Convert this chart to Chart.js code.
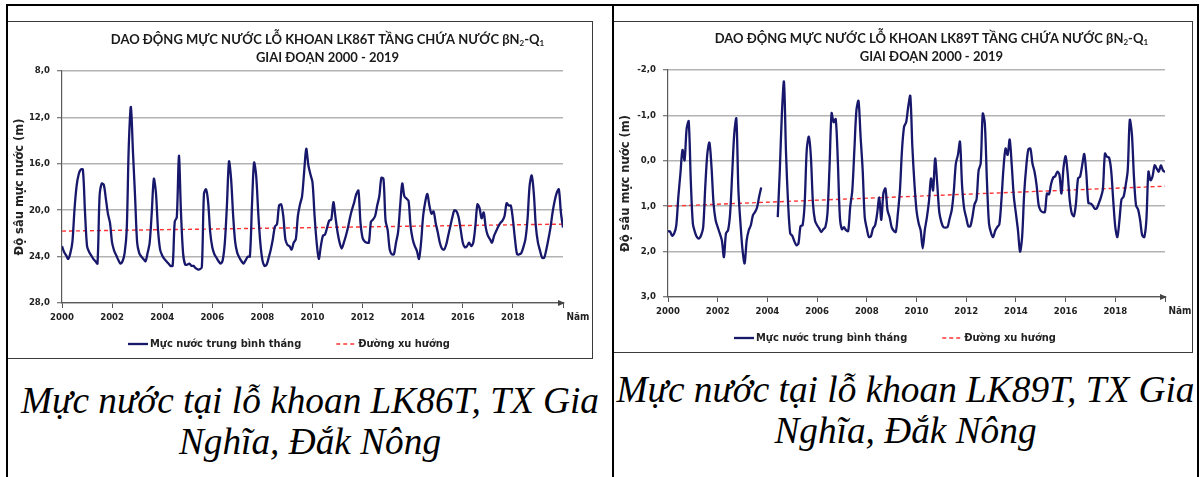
<!DOCTYPE html>
<html lang="vi">
<head>
<meta charset="utf-8">
<title>Mực nước lỗ khoan LK86T, LK89T</title>
<script src="https://cdn.jsdelivr.net/npm/chart.js@4.4.1/dist/chart.umd.min.js"></script>
<style>
  html, body { margin: 0; padding: 0; background: #fff; }
  body { position: relative; width: 1200px; height: 477px; overflow: hidden; }
  .rule { position: absolute; background: #000; }
  .box { position: absolute; box-sizing: border-box; border: 1px solid #3a3a3a; border-left: none; }
  canvas { position: absolute; }
  .caption {
    position: absolute; text-align: center; white-space: nowrap; color: #000;
    font-family: "Liberation Serif", "Times New Roman", serif; font-style: italic;
    font-size: 37.3px; line-height: 41px;
  }
</style>
</head>
<body>
<div class="rule" style="left:6px;top:4px;width:1193px;height:2px"></div>
<div class="rule" style="left:6px;top:4px;width:2px;height:473px"></div>
<div class="rule" style="left:612px;top:4px;width:2px;height:473px"></div>
<div class="rule" style="left:1197px;top:4px;width:2px;height:473px"></div>
<div class="box" style="left:8px;top:21px;width:585px;height:338px"></div>
<div class="box" style="left:614px;top:21px;width:579px;height:332px"></div>
<canvas id="lk86" width="584" height="338" style="left:8px;top:21px"></canvas>
<canvas id="lk89" width="578" height="332" style="left:614px;top:21px"></canvas>
<div class="caption" style="left:8px;width:604px;top:380px">Mực nước tại lỗ khoan LK86T, TX Gia<br>Nghĩa, Đắk Nông</div>
<div class="caption" style="left:614px;width:583px;top:369px">Mực nước tại lỗ khoan LK89T, TX Gia<br>Nghĩa, Đắk Nông</div>

<script>
// độ sâu mực nước trung bình tháng (m), từ 01/2000 đến 01/2020
const lk86t = [
  23.1, 23.6, 23.9, 24.2, 23.7, 22.7, 19.9, 17.9, 16.9, 16.5, 16.5, 20.1, // 2000
  23.1, 23.6, 23.9, 24.2, 24.4, 24.6, 18.8, 17.7, 17.8, 19.0, 20.3, 21.1, // 2001
  22.8, 23.5, 23.9, 24.3, 24.6, 24.4, 23.7, 21.7, 14.4, 11.1, 15.0, 18.8, // 2002
  22.8, 23.7, 24.0, 24.2, 24.4, 23.7, 22.8, 20.2, 17.3, 18.5, 21.7, 23.4, // 2003
  23.9, 24.2, 24.4, 24.6, 24.8, 24.8, 21.0, 20.6, 15.3, 20.2, 23.7, 24.7, // 2004
  24.7, 24.6, 24.8, 24.8, 25.0, 25.1, 25.1, 24.9, 18.6, 18.2, 19.3, 21.9, // 2005
  23.2, 23.8, 24.1, 24.4, 24.6, 24.3, 22.8, 19.6, 15.8, 17.3, 20.5, 22.8, // 2006
  23.7, 24.1, 24.4, 24.6, 24.3, 24.0, 24.0, 19.6, 15.9, 17.0, 20.2, 22.8, // 2007
  24.3, 24.8, 24.7, 24.1, 23.4, 22.5, 21.4, 21.2, 19.6, 19.5, 20.5, 22.5, // 2008
  23.0, 23.1, 23.4, 22.8, 22.5, 20.5, 19.5, 18.8, 16.7, 14.7, 16.1, 16.9, // 2009
  17.6, 20.5, 22.8, 24.2, 23.1, 22.2, 22.1, 21.5, 20.9, 20.8, 19.3, 20.6, // 2010
  21.9, 22.8, 23.3, 22.8, 22.2, 21.5, 20.6, 19.9, 19.3, 18.6, 18.3, 21.1, // 2011
  22.4, 22.7, 22.8, 22.8, 21.0, 20.8, 20.5, 19.6, 18.8, 17.2, 17.3, 20.9, // 2012
  21.7, 23.4, 23.8, 23.8, 22.8, 21.9, 19.6, 17.7, 18.8, 19.0, 19.2, 21.4, // 2013
  22.5, 23.1, 23.5, 24.2, 22.8, 20.5, 19.3, 18.6, 19.6, 20.3, 20.1, 21.1, // 2014
  21.9, 22.8, 23.3, 23.4, 23.0, 22.2, 21.4, 20.6, 20.0, 20.1, 20.6, 21.7, // 2015
  22.8, 23.2, 23.1, 22.8, 23.1, 22.8, 21.4, 19.5, 19.8, 20.7, 20.2, 21.5, // 2016
  22.2, 22.5, 22.8, 22.2, 21.8, 21.4, 21.1, 20.9, 20.5, 19.4, 19.6, 19.6, // 2017
  20.8, 22.5, 23.8, 23.8, 23.7, 23.2, 22.5, 20.8, 17.9, 17.0, 18.5, 21.4, // 2018
  22.8, 23.5, 24.1, 24.1, 23.4, 22.5, 21.5, 20.2, 19.2, 18.5, 18.2, 20.2, // 2019
  21.5
];

// null = không có số liệu quan trắc
const lk89t = [
  1.55, 1.56, 1.65, 1.60, 1.42, 0.79, 0.28, -0.24, -0.01, -0.71, -0.87, 0.43, // 2000
  1.38, 1.57, 1.68, 1.71, 1.64, 1.46, 0.57, -0.16, -0.40, 0.13, 0.94, 1.31,   // 2001
  1.46, 1.60, 1.75, 2.12, 1.60, 1.53, 1.16, 0.28, -0.60, -0.93, 0.65, 1.38,   // 2002
  1.97, 2.26, 1.75, 1.53, 1.42, 1.20, 1.13, 1.03, 0.79, 0.59, null, null,     // 2003
  null, null, null, null, null, 1.24, 0.20, -1.04, -1.74, -0.16, 0.94, 1.60,  // 2004
  1.65, 1.77, 1.86, 1.82, 1.44, 1.42, 0.94, -0.24, -0.53, -0.09, 0.94, 1.32,  // 2005
  1.42, 1.49, 1.57, 1.51, 1.46, 1.16, 0.13, -1.05, -0.85, -0.92, -0.01, 1.24, // 2006
  1.51, 1.46, 1.53, 1.55, 1.01, 0.65, -0.24, -1.12, -1.32, -0.53, 0.20, 1.24, // 2007
  1.49, 1.68, 1.66, 1.49, 1.42, 1.16, 0.81, 1.30, 0.72, 0.61, 1.09, 1.24,     // 2008
  1.46, 1.54, 1.57, 1.16, 0.65, -0.24, -0.75, -0.85, -1.19, -1.43, -0.31, 0.50, // 2009
  1.09, 1.37, 1.53, 1.93, 1.53, 1.25, 0.90, 0.39, 0.65, -0.05, 0.50, 1.13,    // 2010
  1.35, 1.46, 1.47, 1.46, 1.27, 1.09, 0.68, 0.06, -0.13, -0.42, 0.54, 1.05,   // 2011
  1.25, 1.44, 1.44, 1.24, 0.96, 0.85, 0.21, 0.06, -1.04, -0.82, 0.43, 1.38,   // 2012
  1.59, 1.68, 1.54, 1.46, 1.40, 0.87, 0.17, -0.27, -0.13, -0.47, 0.10, 0.79,  // 2013
  1.16, 1.53, 2.00, 1.68, 0.72, 0.13, -0.25, -0.27, 0.06, 0.24, 0.54, 0.98,   // 2014
  1.10, 1.13, 1.13, 0.72, 0.74, 0.51, 0.37, 0.34, 0.24, 0.30, 0.72, 0.15,     // 2015
  -0.10, 0.28, 0.87, 1.16, 1.22, 0.94, 0.39, 0.35, 0.10, -0.15, 0.28, 0.93,   // 2016
  0.94, 0.98, 1.05, 1.05, 0.94, 0.81, 0.63, -0.16, -0.09, -0.07, 0.21, 0.87,  // 2017
  1.46, 1.68, 1.31, 0.85, 0.79, 0.54, 0.21, -0.90, -0.60, 0.35, 0.98, 1.07,   // 2018
  1.31, 1.64, 1.68, 1.31, 0.24, 0.43, 0.34, 0.10, 0.17, 0.24, 0.10, 0.21,     // 2019
  0.25
];

// đường xu hướng: giá trị đầu và cuối giai đoạn
const trendYears = [2000, 2020];
const lk86Trend = [21.8, 21.2];
const lk89Trend = [1.0, 0.56];

const startYear = 2000;
const seriesLabel = 'Mực nước trung bình tháng';
const trendLabel = 'Đường xu hướng';
const navy = '#17176b';
const red = '#ff3434';
const axisFont = { family: '"DejaVu Sans Condensed", "DejaVu Sans", sans-serif', weight: 'bold', size: 9.5 };
const yTitleFont = { family: '"DejaVu Sans", sans-serif', weight: 'bold', size: 11.5 };
const textColor = '#222';

const toPoints = values => values.map((v, i) => ({ x: startYear + i / 12, y: v }));
const toTrend = values => values.map((v, i) => ({ x: trendYears[i], y: v }));
const comma = v => Number(v).toFixed(1).replace('.', ',');

function drawTitleLine(ctx, parts, cx, cy, size) {
  const big = `bold ${size}px Lato, "Open Sans", sans-serif`;
  const small = `bold ${Math.round(size * 0.62)}px Lato, "Open Sans", sans-serif`;
  const widths = parts.map(p => {
    ctx.font = p.sub ? small : big;
    return ctx.measureText(p.text).width;
  });
  let x = cx - widths.reduce((s, w) => s + w, 0) / 2;
  ctx.textAlign = 'left';
  ctx.textBaseline = 'middle';
  parts.forEach((p, i) => {
    ctx.font = p.sub ? small : big;
    ctx.fillText(p.text, x, p.sub ? cy + size * 0.3 : cy);
    x += widths[i];
  });
}

// tiêu đề, chú giải, nhãn "Năm" và mũi tên trục hoành
const decor = {
  id: 'decor',
  afterDraw(chart, args, opts) {
    const { ctx, chartArea: a } = chart;
    ctx.save();
    ctx.fillStyle = '#1a1a1a';
    const cx = a.left + a.width * 0.53;
    drawTitleLine(ctx, opts.title, cx, a.top - 31, 13);
    drawTitleLine(ctx, [{ text: 'GIAI ĐOẠN 2000 - 2019' }], cx, a.top - 13, 13);

    // mũi tên cuối trục thời gian
    ctx.fillStyle = '#444';
    ctx.beginPath();
    ctx.moveTo(a.right + 2, a.bottom);
    ctx.lineTo(a.right - 5, a.bottom - 3);
    ctx.lineTo(a.right - 5, a.bottom + 3);
    ctx.closePath();
    ctx.fill();

    ctx.fillStyle = textColor;
    ctx.font = 'bold 10px "DejaVu Sans Condensed", "DejaVu Sans", sans-serif';
    ctx.textAlign = 'center';
    ctx.textBaseline = 'middle';
    ctx.fillText('Năm', a.right + 15, a.bottom + 14);

    // chú giải
    const ly = a.bottom + opts.legendOffset;
    ctx.font = 'bold 11px "DejaVu Sans Condensed", "DejaVu Sans", sans-serif';
    ctx.textAlign = 'left';
    let x = a.left + 66;
    chart.data.datasets.forEach(ds => {
      ctx.strokeStyle = ds.borderColor;
      ctx.lineWidth = ds.borderWidth;
      ctx.setLineDash(ds.borderDash || []);
      ctx.beginPath();
      ctx.moveTo(x, ly);
      ctx.lineTo(x + 20, ly);
      ctx.stroke();
      ctx.setLineDash([]);
      ctx.fillText(ds.label, x + 22, ly);
      x += 22 + ctx.measureText(ds.label).width + 35;
    });
    ctx.restore();
  }
};

function buildChart(id, values, trend, yMin, yMax, yStep, title, pad, legendOffset) {
  return new Chart(document.getElementById(id), {
    type: 'line',
    data: {
      datasets: [
        {
          label: seriesLabel,
          data: toPoints(values),
          borderColor: navy,
          borderWidth: 2.3,
          pointRadius: 0,
          tension: 0.3,
          spanGaps: false,
          fill: false
        },
        {
          label: trendLabel,
          data: toTrend(trend),
          borderColor: red,
          borderWidth: 1.4,
          borderDash: [4, 3],
          pointRadius: 0,
          fill: false
        }
      ]
    },
    options: {
      responsive: false,
      devicePixelRatio: 1,
      animation: false,
      events: [],
      layout: { padding: pad },
      plugins: {
        legend: { display: false },
        tooltip: { enabled: false },
        decor: { title, legendOffset }
      },
      scales: {
        x: {
          type: 'linear',
          min: 2000,
          max: 2020,
          ticks: {
            stepSize: 2,
            autoSkip: false,
            maxRotation: 0,
            padding: 4,
            color: textColor,
            font: axisFont,
            callback: v => (v >= 2020 ? '' : String(v))
          },
          grid: { drawOnChartArea: false, drawTicks: true, tickLength: 5, tickColor: '#555' },
          border: { color: '#5a5a5a', width: 1.2 },
          afterFit: s => { s.height = 26; }
        },
        y: {
          type: 'linear',
          reverse: true,
          min: yMin,
          max: yMax,
          ticks: { stepSize: yStep, padding: 7, color: textColor, font: axisFont, callback: comma },
          grid: { color: '#b3b3b3', lineWidth: 1.5, drawTicks: true, tickLength: 5, tickColor: '#555', tickWidth: 1 },
          border: { color: '#5a5a5a', width: 1.2 },
          title: {
            display: true,
            text: 'Độ sâu mực nước (m)',
            color: textColor,
            font: yTitleFont,
            padding: { top: 5, bottom: 0 }
          },
          afterFit: s => { s.width = 54; }
        }
      }
    },
    plugins: [decor]
  });
}

buildChart('lk86', lk86t, lk86Trend, 8, 28, 4, [
  { text: 'DAO ĐỘNG MỰC NƯỚC LỖ KHOAN LK86T TẦNG CHỨA NƯỚC βN' }, { text: '2', sub: true },
  { text: '-Q' }, { text: '1', sub: true }
], { top: 50, right: 29, bottom: 30, left: 0 }, 41);

buildChart('lk89', lk89t, lk89Trend, -2, 3, 1, [
  { text: 'DAO ĐỘNG MỰC NƯỚC LỖ KHOAN LK89T TẦNG CHỨA NƯỚC βN' }, { text: '2', sub: true },
  { text: '-Q' }, { text: '1', sub: true }
], { top: 49, right: 27, bottom: 30, left: 0 }, 41);
</script>
</body>
</html>
